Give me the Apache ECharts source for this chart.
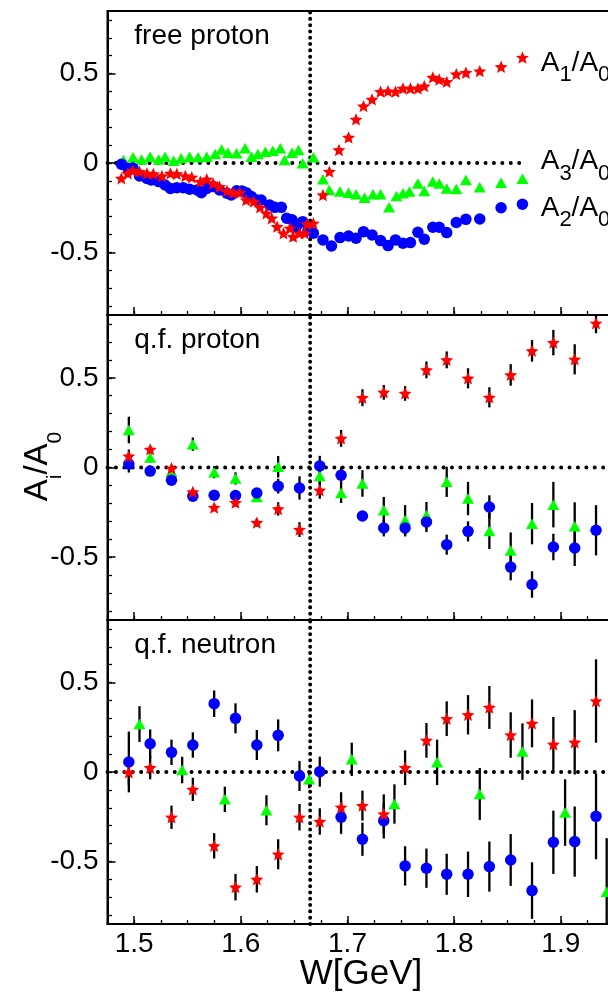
<!DOCTYPE html>
<html>
<head>
<meta charset="utf-8">
<script src="https://cdn.jsdelivr.net/npm/echarts@6/dist/echarts.min.js"></script>
<style>html,body{margin:0;padding:0;background:#fff}#c{width:608px;height:993px}</style>
</head>
<body>
<div id="c"></div>
<script>
// ---------- axis ticks / labels ----------
const xMajorTicks = [1.5, 1.6, 1.7, 1.8, 1.9, 2.0];
const xTickLabels = [1.5, 1.6, 1.7, 1.8, 1.9];
const xMinorTicks = [1.475, 1.5, 1.525, 1.55, 1.575, 1.6, 1.625, 1.65, 1.675, 1.7, 1.725, 1.75, 1.775, 1.8, 1.825, 1.85, 1.875, 1.9, 1.925, 1.95, 1.975, 2.0];
const yMajorTicks = [-0.5, 0, 0.5];
const yTickLabels = [-0.5, 0, 0.5];
const yMinorTicks = [-0.8, -0.7, -0.6, -0.5, -0.4, -0.3, -0.2, -0.1, 0, 0.1, 0.2, 0.3, 0.4, 0.5, 0.6, 0.7, 0.8];
const panelTitles = ['free proton', 'q.f. proton', 'q.f. neutron'];
const thresholdW = 1.665;
const zeroLineFreeW = [1.475, 1.866];
const zeroLineFullW = [1.475, 2.0];

// ---------- free proton ----------
const fpA1W = [1.488,1.494,1.499,1.505,1.512,1.518,1.526,1.534,1.540,1.548,1.554,1.562,1.568,1.574,1.580,1.587,1.593,1.599,1.605,1.612,1.618,1.624,1.629,1.634,1.640,1.646,1.649,1.655,1.660,1.662,1.668,1.677,1.683,1.692,1.701,1.708,1.715,1.723,1.731,1.738,1.745,1.752,1.759,1.766,1.772,1.780,1.786,1.793,1.802,1.811,1.824,1.844,1.864];
const fpA1 = [-0.086,-0.058,-0.043,-0.048,-0.058,-0.061,-0.073,-0.058,-0.061,-0.073,-0.080,-0.104,-0.091,-0.114,-0.132,-0.155,-0.166,-0.166,-0.207,-0.216,-0.248,-0.281,-0.309,-0.356,-0.393,-0.365,-0.412,-0.393,-0.393,-0.341,-0.337,-0.179,-0.048,0.073,0.143,0.244,0.318,0.356,0.399,0.402,0.399,0.417,0.417,0.417,0.430,0.479,0.467,0.454,0.497,0.505,0.514,0.538,0.590];
const fpA2W = [1.488,1.494,1.499,1.505,1.512,1.516,1.523,1.529,1.534,1.540,1.546,1.552,1.559,1.563,1.568,1.574,1.580,1.587,1.591,1.596,1.601,1.605,1.610,1.615,1.619,1.627,1.632,1.638,1.643,1.648,1.652,1.658,1.663,1.668,1.677,1.685,1.693,1.701,1.708,1.715,1.723,1.731,1.738,1.745,1.752,1.759,1.766,1.772,1.780,1.786,1.793,1.802,1.811,1.824,1.844,1.864];
const fpA2 = [-0.007,-0.030,-0.030,-0.073,-0.086,-0.095,-0.104,-0.123,-0.142,-0.138,-0.138,-0.147,-0.151,-0.166,-0.142,-0.132,-0.151,-0.169,-0.179,-0.155,-0.156,-0.166,-0.188,-0.207,-0.207,-0.235,-0.248,-0.248,-0.309,-0.318,-0.356,-0.328,-0.374,-0.393,-0.430,-0.464,-0.417,-0.408,-0.421,-0.384,-0.402,-0.434,-0.462,-0.430,-0.449,-0.445,-0.387,-0.426,-0.359,-0.359,-0.389,-0.333,-0.315,-0.313,-0.250,-0.231];
const fpA3W = [1.490,1.499,1.507,1.515,1.523,1.529,1.537,1.544,1.552,1.560,1.568,1.576,1.582,1.588,1.596,1.604,1.610,1.616,1.623,1.630,1.637,1.641,1.648,1.654,1.658,1.668,1.677,1.683,1.693,1.701,1.708,1.716,1.724,1.731,1.739,1.746,1.752,1.758,1.766,1.772,1.780,1.786,1.793,1.802,1.811,1.824,1.844,1.864];
const fpA3 = [0.017,0.032,0.020,0.035,0.020,0.035,0.013,0.026,0.035,0.032,0.035,0.050,0.076,0.058,0.054,0.082,0.035,0.050,0.063,0.069,0.082,0.017,0.058,0.073,-0.002,0.032,-0.091,-0.151,-0.160,-0.166,-0.175,-0.194,-0.175,-0.175,-0.248,-0.184,-0.169,-0.160,-0.114,-0.156,-0.104,-0.114,-0.142,-0.145,-0.095,-0.136,-0.110,-0.088];

// ---------- quasi-free (shared W bins) ----------
const qfW = [1.495,1.515,1.535,1.555,1.575,1.595,1.615,1.635,1.655,1.674,1.694,1.714,1.734,1.754,1.774,1.793,1.813,1.833,1.853,1.873,1.893,1.913,1.933];

// q.f. proton
const qfpA1 = [0.063,0.101,-0.004,-0.136,-0.223,-0.196,-0.307,-0.231,-0.346,-0.127,0.162,0.389,0.419,0.413,0.544,0.600,0.497,0.391,0.516,0.650,0.696,0.603,0.804];
const qfpA1Err = [0.037,0.019,0.019,0.015,0.019,0.022,0.022,0.037,0.041,0.047,0.047,0.047,0.041,0.041,0.047,0.047,0.056,0.056,0.060,0.060,0.071,0.084,0.056];
const qfpA2 = [0.019,-0.020,-0.071,-0.160,-0.155,-0.156,-0.142,-0.104,-0.114,0.009,-0.043,-0.270,-0.337,-0.337,-0.304,-0.430,-0.356,-0.220,-0.555,-0.652,-0.443,-0.449,-0.350];
const qfpA2Err = [0.047,0.019,0.019,0.015,0.019,0.019,0.022,0.041,0.065,0.056,0.047,0.022,0.047,0.047,0.056,0.056,0.056,0.065,0.074,0.074,0.074,0.100,0.140];
const qfpA3 = [0.209,0.056,-0.024,0.130,-0.026,-0.061,-0.164,0.004,null,-0.047,-0.142,-0.089,-0.238,-0.294,-0.266,-0.080,-0.173,-0.354,-0.462,-0.313,-0.207,-0.328,null];
const qfpA3Err = [0.074,0.028,0.019,0.037,0.034,0.034,0.019,0.060,null,0.047,0.056,0.074,0.074,0.084,0.074,0.084,0.093,0.100,0.100,0.115,0.127,0.134,null];

// q.f. neutron
const qfnA1 = [-0.002,0.024,-0.253,-0.097,-0.413,-0.644,-0.600,-0.460,-0.253,-0.277,-0.197,-0.188,-0.235,0.024,0.177,0.298,0.320,0.361,0.207,0.272,0.155,0.166,0.397];
const qfnA1Err = [0.070,0.065,0.065,0.065,0.071,0.074,0.074,0.084,0.074,0.074,0.084,0.084,0.110,0.097,0.097,0.097,0.110,0.120,0.127,0.134,0.153,0.180,0.233];
const qfnA2 = [0.056,0.158,0.110,0.151,0.382,0.300,0.151,0.205,-0.022,0.002,-0.253,-0.376,-0.272,-0.525,-0.538,-0.572,-0.572,-0.529,-0.492,-0.663,-0.393,-0.389,-0.248];
const qfnA2Err = [0.170,0.080,0.071,0.071,0.074,0.084,0.084,0.089,0.084,0.084,0.093,0.093,0.100,0.110,0.110,0.115,0.127,0.140,0.145,0.158,0.177,0.196,0.240];
const qfnA3W = [1.505,1.545,1.585,1.624,1.664,1.704,1.744,1.784,1.824,1.864,1.904,1.943];
const qfnA3 = [0.268,0.011,-0.153,-0.214,-0.041,0.071,-0.179,0.054,-0.123,0.114,-0.227,-0.670];
const qfnA3Err = [0.100,0.074,0.071,0.084,0.050,0.093,0.110,0.127,0.145,0.158,0.186,0.300];

// ---------- helpers ----------
const FONT = "'Liberation Sans', Arial, Helvetica, sans-serif";
const RED = '#ff0000', GREEN = '#00ff00', BLUE = '#0000ff';
const STAR = 'path://M0,-100 L26.4,-36.4 L95.1,-30.9 L42.8,13.9 L58.8,80.9 L0,45 L-58.8,80.9 L-42.8,13.9 L-95.1,-30.9 L-26.4,-36.4 Z';

function pts(W, V) {
  const out = [];
  for (let k = 0; k < W.length; k++) if (V[k] != null) out.push([W[k], V[k]]);
  return out;
}
function bars(W, V, E) {
  const out = [];
  for (let k = 0; k < W.length; k++) if (V[k] != null && E[k] != null) out.push([W[k], V[k] - E[k], V[k] + E[k]]);
  return out;
}
function errRender(params, api) {
  const x = api.value(0), lo = api.value(1), hi = api.value(2);
  const p1 = api.coord([x, lo]), p2 = api.coord([x, hi]);
  return { type: 'line', shape: { x1: p1[0], y1: p1[1], x2: p2[0], y2: p2[1] },
           style: { stroke: '#000', lineWidth: 2.3 } };
}

const gridDefs = [
  { top: 11, height: 304 },
  { top: 315, height: 305 },
  { top: 620, height: 304 }
];
const grid = gridDefs.map(g => ({
  left: 107.5, width: 560, top: g.top, height: g.height,
  show: true, borderColor: '#000', borderWidth: 2, backgroundColor: 'transparent',
  containLabel: false, outerBoundsMode: 'none'
}));

const xAxis = [], yAxis = [];
for (let i = 0; i < 3; i++) {
  xAxis.push({
    type: 'value', gridIndex: i, min: 1.475, max: 2.0, position: 'bottom',
    axisLine: { show: true, onZero: false, lineStyle: { color: '#000', width: 2 } },
    axisTick: { show: true, inside: true, length: 8, lineStyle: { color: '#000', width: 1.5 }, customValues: xMajorTicks },
    axisLabel: { show: i === 2, customValues: xTickLabels, color: '#000', fontFamily: FONT, fontSize: 28, margin: 6,
                 formatter: v => String(Math.round(v * 10) / 10) },
    splitLine: { show: false }
  });
  yAxis.push({
    type: 'value', gridIndex: i, min: -0.85, max: 0.85, position: 'left',
    axisLine: { show: true, onZero: false, lineStyle: { color: '#000', width: 2 } },
    axisTick: { show: true, inside: true, length: 8, lineStyle: { color: '#000', width: 1.5 }, customValues: yMajorTicks },
    axisLabel: { show: true, customValues: yTickLabels, color: '#000', fontFamily: FONT, fontSize: 28, margin: 9,
                 formatter: v => String(Math.round(v * 10) / 10) },
    splitLine: { show: false }
  });
}
for (let i = 0; i < 3; i++) {
  xAxis.push({
    type: 'value', gridIndex: i, min: 1.475, max: 2.0, position: 'bottom',
    axisLine: { show: false, onZero: false },
    axisTick: { show: true, inside: true, length: 4, lineStyle: { color: '#000', width: 1.3 }, customValues: xMinorTicks },
    axisLabel: { show: false }, splitLine: { show: false }
  });
  yAxis.push({
    type: 'value', gridIndex: i, min: -0.85, max: 0.85, position: 'left',
    axisLine: { show: false, onZero: false },
    axisTick: { show: true, inside: true, length: 4.5, lineStyle: { color: '#000', width: 1.3 }, customValues: yMinorTicks },
    axisLabel: { show: false }, splitLine: { show: false }
  });
}

const series = [];
function dotted(i, data, dash) {
  series.push({
    type: 'line', xAxisIndex: i, yAxisIndex: i, data, symbol: 'none', silent: true, z: 1,
    lineStyle: { color: '#000', width: 3.9, type: dash, cap: 'round' }, animation: false
  });
}
function scatter(i, data, symbol, size, color, z) {
  series.push({
    type: 'scatter', xAxisIndex: i, yAxisIndex: i, data, symbol, symbolSize: size, symbolKeepAspect: true,
    itemStyle: { color, opacity: 1 }, z, silent: true, clip: true, animation: false
  });
}
function errs(i, data) {
  series.push({
    type: 'custom', xAxisIndex: i, yAxisIndex: i, data, renderItem: errRender, z: 2, silent: true, clip: true,
    encode: { x: 0, y: [1, 2] }, animation: false
  });
}

// panel 0: free proton
dotted(0, zeroLineFreeW.map(w => [w, 0]), [0.1, 8.3]);
dotted(0, [[thresholdW, -0.85], [thresholdW, 0.85]], [0.1, 6.2]);
scatter(0, pts(fpA3W, fpA3), 'triangle', [12, 10.5], GREEN, 3);
scatter(0, pts(fpA2W, fpA2), 'circle', 11.5, BLUE, 4);
scatter(0, pts(fpA1W, fpA1), STAR, 13, RED, 5);

// panel 1: q.f. proton
dotted(1, zeroLineFullW.map(w => [w, 0]), [0.1, 8.3]);
dotted(1, [[thresholdW, -0.85], [thresholdW, 0.85]], [0.1, 6.2]);
errs(1, bars(qfW, qfpA3, qfpA3Err));
errs(1, bars(qfW, qfpA2, qfpA2Err));
errs(1, bars(qfW, qfpA1, qfpA1Err));
scatter(1, pts(qfW, qfpA3), 'triangle', [12, 10.5], GREEN, 3);
scatter(1, pts(qfW, qfpA2), 'circle', 11.5, BLUE, 4);
scatter(1, pts(qfW, qfpA1), STAR, 13, RED, 5);

// panel 2: q.f. neutron
dotted(2, zeroLineFullW.map(w => [w, 0]), [0.1, 8.3]);
dotted(2, [[thresholdW, -0.85], [thresholdW, 0.85]], [0.1, 6.2]);
errs(2, bars(qfnA3W, qfnA3, qfnA3Err));
errs(2, bars(qfW, qfnA2, qfnA2Err));
errs(2, bars(qfW, qfnA1, qfnA1Err));
scatter(2, pts(qfnA3W, qfnA3), 'triangle', [12, 10.5], GREEN, 3);
scatter(2, pts(qfW, qfnA2), 'circle', 11.5, BLUE, 4);
scatter(2, pts(qfW, qfnA1), STAR, 13, RED, 5);

function legendText(sub, x, y) {
  return {
    type: 'text', x, y, z: 10, silent: true,
    style: {
      text: '{a|A}{s|' + sub + '}{a|/A}{s|0}', align: 'left', verticalAlign: 'top',
      rich: {
        a: { fontSize: 28, lineHeight: 28, verticalAlign: 'top', fontFamily: FONT, fill: '#000' },
        s: { fontSize: 22, lineHeight: 37, verticalAlign: 'bottom', fontFamily: FONT, fill: '#000' }
      }
    }
  };
}

const graphic = [
  { type: 'text', x: 134.3, y: 36.7, z: 10, silent: true,
    style: { text: panelTitles[0], fontSize: 28, fontFamily: FONT, fill: '#000', align: 'left', verticalAlign: 'middle' } },
  { type: 'text', x: 134.3, y: 340.7, z: 10, silent: true,
    style: { text: panelTitles[1], fontSize: 28, fontFamily: FONT, fill: '#000', align: 'left', verticalAlign: 'middle' } },
  { type: 'text', x: 134.3, y: 645.7, z: 10, silent: true,
    style: { text: panelTitles[2], fontSize: 28, fontFamily: FONT, fill: '#000', align: 'left', verticalAlign: 'middle' } },
  legendText('1', 540.7, 49.3),
  legendText('3', 540.7, 147.7),
  legendText('2', 540.7, 194.3),
  { type: 'text', x: 361, y: 974.5, z: 10, silent: true,
    style: { text: 'W[GeV]', fontSize: 35, fontFamily: FONT, fill: '#000', align: 'center', verticalAlign: 'middle' } },
  { type: 'text', x: 21, y: 466.5, rotation: Math.PI / 2, z: 10, silent: true,
    style: {
      text: '{a|A}{s|i}{a|/A}{s|0}', align: 'center', verticalAlign: 'top',
      rich: {
        a: { fontSize: 33, lineHeight: 33, verticalAlign: 'top', fontFamily: FONT, fill: '#000' },
        s: { fontSize: 21, lineHeight: 45, verticalAlign: 'bottom', fontFamily: FONT, fill: '#000' }
      }
    } }
];

const chart = echarts.init(document.getElementById('c'), null, { renderer: 'canvas' });
chart.setOption({
  backgroundColor: '#ffffff',
  animation: false,
  grid, xAxis, yAxis, series, graphic
});
</script>
</body>
</html>
